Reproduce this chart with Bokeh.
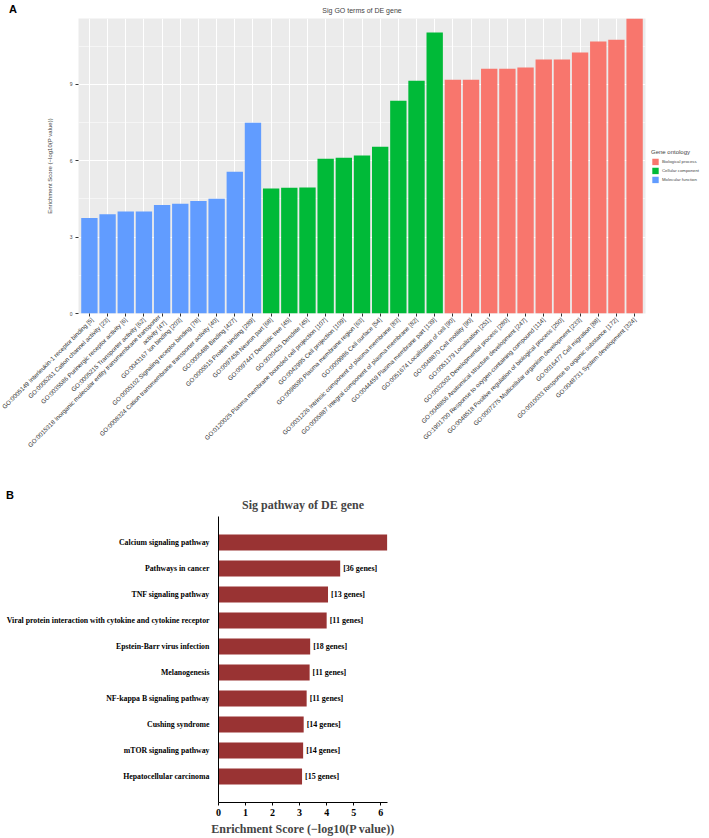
import math
from bokeh.plotting import figure
from bokeh.models import (ColumnDataSource, FactorRange, Range1d, FixedTicker,
                          Legend, LegendItem, LabelSet, Div)
from bokeh.embed import file_html
from bokeh.resources import INLINE
from bokeh.core.properties import value

# ---------------- Panel A data ----------------
mf_terms = [
    "GO:0005149 Interleukin-1 receptor binding [5]",
    "GO:0005261 Cation channel activity [23]",
    "GO:0035586 Purinergic receptor activity [6]",
    "GO:0005215 Transporter activity [62]",
    "GO:0015318 Inorganic molecular entity transmembrane transporter\nactivity [47]",
    "GO:0043167 Ion binding [203]",
    "GO:0005102 Signaling receptor binding [78]",
    "GO:0008324 Cation transmembrane transporter activity [40]",
    "GO:0005488 Binding [427]",
    "GO:0005515 Protein binding [289]",
]
mf_scores = [3.75, 3.90, 4.00, 4.00, 4.26, 4.31, 4.42, 4.50, 5.56, 7.49]

cc_terms = [
    "GO:0097458 Neuron part [68]",
    "GO:0097447 Dendritic tree [45]",
    "GO:0030425 Dendrite [45]",
    "GO:0120025 Plasma membrane bounded cell projection [107]",
    "GO:0042995 Cell projection [109]",
    "GO:0098590 Plasma membrane region [63]",
    "GO:0009986 Cell surface [54]",
    "GO:0031226 Intrinsic component of plasma membrane [83]",
    "GO:0005887 Integral component of plasma membrane [82]",
    "GO:0044459 Plasma membrane part [139]",
]
cc_scores = [4.91, 4.94, 4.95, 6.07, 6.11, 6.20, 6.55, 8.35, 9.14, 11.03]

bp_terms = [
    "GO:0051674 Localization of cell [90]",
    "GO:0048870 Cell motility [90]",
    "GO:0051179 Localization [251]",
    "GO:0032502 Developmental process [280]",
    "GO:0048856 Anatomical structure development [247]",
    "GO:1901700 Response to oxygen-containing compound [114]",
    "GO:0048518 Positive regulation of biological process [250]",
    "GO:0007275 Multicellular organism development [233]",
    "GO:0016477 Cell migration [88]",
    "GO:0010033 Response to organic substance [172]",
    "GO:0048731 System development [324]",
]
bp_scores = [9.18, 9.18, 9.61, 9.61, 9.66, 9.97, 9.97, 10.25, 10.68, 10.75, 11.58]

y_ticks_a = [0, 3, 6, 9]
ontology_names = ["Biological process", "Cellular component", "Molecular function"]
ontology_colors = ["#F8766D", "#00BA38", "#619CFF"]

# ---------------- Panel B data ----------------
pw_names = [
    "Calcium signaling pathway",
    "Pathways in cancer",
    "TNF signaling pathway",
    "Viral protein interaction with cytokine and cytokine receptor",
    "Epstein-Barr virus infection",
    "Melanogenesis",
    "NF-kappa B signaling pathway",
    "Cushing syndrome",
    "mTOR signaling pathway",
    "Hepatocellular carcinoma",
]
pw_scores = [6.24, 4.50, 4.05, 4.00, 3.39, 3.37, 3.26, 3.15, 3.13, 3.09]
pw_genes = [22, 36, 13, 11, 18, 11, 11, 14, 14, 15]
x_ticks_b = [0, 1, 2, 3, 4, 5, 6]

# ================= Panel A =================
factors = mf_terms + cc_terms + bp_terms
ymax = max(mf_scores + cc_scores + bp_scores)
sans = "Liberation Sans"

pA = figure(frame_width=567, frame_height=295,
            x_range=FactorRange(factors=factors, range_padding=0.1,
                                range_padding_units="absolute"),
            y_range=Range1d(0, ymax),
            output_backend="svg", toolbar_location=None,
            min_border_left=78, min_border_right=0, min_border_top=18,
            min_border_bottom=174,
            background_fill_color="#EBEBEB", outline_line_color=None)

src_mf = ColumnDataSource(dict(term=mf_terms, score=mf_scores))
src_cc = ColumnDataSource(dict(term=cc_terms, score=cc_scores))
src_bp = ColumnDataSource(dict(term=bp_terms, score=bp_scores))
r_bp = pA.vbar(x="term", top="score", width=0.9, source=src_bp,
               fill_color=ontology_colors[0], line_color=None)
r_cc = pA.vbar(x="term", top="score", width=0.9, source=src_cc,
               fill_color=ontology_colors[1], line_color=None)
r_mf = pA.vbar(x="term", top="score", width=0.9, source=src_mf,
               fill_color=ontology_colors[2], line_color=None)

pA.title.text = "Sig GO terms of DE gene"
pA.title.align = "center"
pA.title.text_font = sans
pA.title.text_font_size = "7px"
pA.title.text_font_style = "normal"
pA.title.standoff = 9

pA.xgrid.grid_line_color = "white"
pA.xgrid.grid_line_width = 1
tick_a = FixedTicker(ticks=y_ticks_a, minor_ticks=[t + 1.5 for t in y_ticks_a])
pA.yaxis.ticker = tick_a
pA.ygrid.ticker = tick_a
pA.ygrid.grid_line_color = "white"
pA.ygrid.grid_line_width = 1
pA.ygrid.minor_grid_line_color = "white"
pA.ygrid.minor_grid_line_width = 0.5

for ax in (pA.xaxis[0], pA.yaxis[0]):
    ax.axis_line_color = None
    ax.major_tick_line_color = "#333333"
    ax.major_tick_in = 0
    ax.major_tick_out = 3
    ax.minor_tick_line_color = None
    ax.major_label_text_font = sans
    ax.major_label_text_color = "#333333"

pA.xaxis.major_label_text_font_size = "6.2px"
pA.xaxis.major_label_orientation = math.pi / 4
pA.xaxis.major_label_standoff = 2
pA.yaxis.major_label_text_font_size = "5px"
pA.yaxis.major_label_text_color = "#4D4D4D"
pA.yaxis.major_label_standoff = 2
pA.yaxis.axis_label = "Enrichment Score (\u2212log10(P value))"
pA.yaxis.axis_label_text_font = sans
pA.yaxis.axis_label_text_font_size = "6px"
pA.yaxis.axis_label_text_font_style = "normal"
pA.yaxis.axis_label_standoff = 14

legend = Legend(items=[LegendItem(label=ontology_names[0], renderers=[r_bp]),
                       LegendItem(label=ontology_names[1], renderers=[r_cc]),
                       LegendItem(label=ontology_names[2], renderers=[r_mf])],
                title="Gene ontology", title_text_font=sans,
                title_text_font_size="6px", title_text_font_style="normal",
                title_standoff=3,
                label_text_font=sans, label_text_font_size="4.3px",
                glyph_width=8, glyph_height=8, label_height=8,
                label_standoff=3, spacing=1, padding=0, margin=6,
                border_line_color=None, background_fill_alpha=0,
                location="center_left")
pA.add_layout(legend, "right")

# ================= Panel B =================
serif = "Liberation Serif"
pB = figure(frame_width=169, frame_height=286,
            x_range=Range1d(0, 6.25),
            y_range=FactorRange(factors=list(reversed(pw_names)), range_padding=0.5,
                                range_padding_units="absolute"),
            output_backend="svg", toolbar_location=None,
            min_border_left=218, min_border_right=60, min_border_top=29,
            min_border_bottom=34, outline_line_color=None)

src_pw = ColumnDataSource(dict(name=pw_names, score=pw_scores,
                               lab=["[%d genes]" % g for g in pw_genes]))
pB.hbar(y="name", left=0, right="score", height=0.62, source=src_pw,
        fill_color="#993333", line_color=None)
pB.add_layout(LabelSet(x="score", y="name", text="lab", source=src_pw, x_offset=3,
                       text_align="left", text_baseline="middle", text_font=value(serif),
                       text_font_style="bold", text_font_size="8px", text_color="black"))

pB.title.text = "Sig pathway of DE gene"
pB.title.align = "center"
pB.title.text_font = serif
pB.title.text_font_size = "12px"
pB.title.text_font_style = "bold"
pB.title.standoff = 10

pB.xgrid.grid_line_color = None
pB.ygrid.grid_line_color = None
pB.xaxis.ticker = FixedTicker(ticks=x_ticks_b)
for ax in (pB.xaxis[0], pB.yaxis[0]):
    ax.axis_line_color = "black"
    ax.axis_line_width = 1
    ax.minor_tick_line_color = None
    ax.major_label_text_font = serif
    ax.major_label_text_font_style = "bold"
    ax.major_label_text_color = "black"
pB.xaxis.major_tick_in = 0
pB.xaxis.major_tick_out = 3
pB.xaxis.major_tick_line_color = "black"
pB.xaxis.major_label_text_font_size = "10px"
pB.xaxis.major_label_standoff = 3
pB.xaxis.axis_label = "Enrichment Score (\u2212log10(P value))"
pB.xaxis.axis_label_text_font = serif
pB.xaxis.axis_label_text_font_size = "12px"
pB.xaxis.axis_label_text_font_style = "bold"
pB.xaxis.axis_label_standoff = 3
pB.yaxis.major_tick_line_color = None
pB.yaxis.major_label_text_font_size = "7.8px"
pB.yaxis.major_label_standoff = 3

# panel letters, placed on the page
letter_css = {"position": "absolute", "font-family": "Liberation Sans",
              "font-weight": "bold", "font-size": "11px", "color": "black"}
divA = Div(text="A", styles=dict(letter_css, left="4px", top="-3px"))
divB = Div(text="B", styles=dict(letter_css, left="1px", top="483px"))

open("out.html", "w").write(file_html([pA, pB, divA, divB], INLINE))
